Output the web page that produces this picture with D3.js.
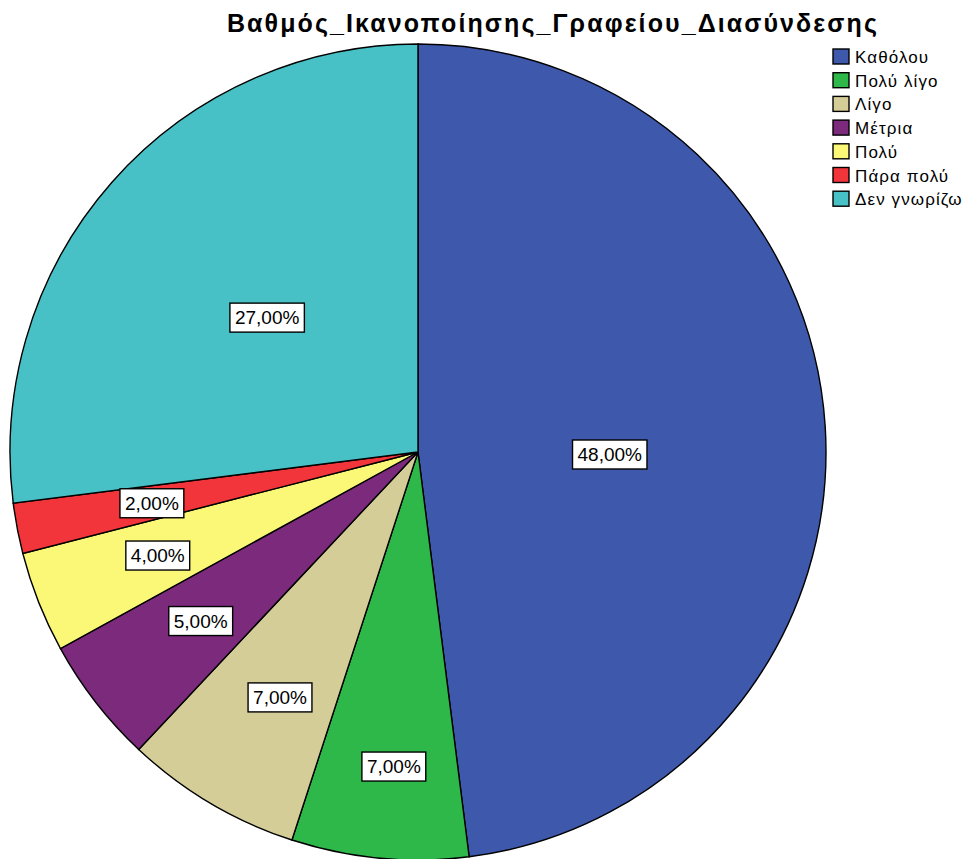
<!DOCTYPE html>
<html>
<head>
<meta charset="utf-8">
<script src="https://cdn.jsdelivr.net/npm/d3@7"></script>
<style>
  body { margin: 0; background: #fff; }
  svg { display: block; font-family: "Liberation Sans", Arial, sans-serif; }
</style>
</head>
<body>
<svg width="973" height="859"></svg>
<script>
var categories = ["Καθόλου", "Πολύ λίγο", "Λίγο", "Μέτρια", "Πολύ", "Πάρα πολύ", "Δεν γνωρίζω"];
var percents = [48, 7, 7, 5, 4, 2, 27];
var colors = ["#3e58ac", "#2eb84a", "#d4cd98", "#7b2a7c", "#fbf877", "#f2353b", "#48c1c6"];

var svg = d3.select("svg");
var cx = 418, cy = 452, r = 408;

svg.append("text")
    .attr("x", 553)
    .attr("y", 32)
    .attr("text-anchor", "middle")
    .style("font-size", "25px")
    .style("font-weight", "bold")
    .style("letter-spacing", "2.1px")
    .text("Βαθμός_Ικανοποίησης_Γραφείου_Διασύνδεσης");

var pie = d3.pie().sort(null).value(function(d) { return d; });
var arcs = pie(percents);
var arc = d3.arc().innerRadius(0).outerRadius(r);

var g = svg.append("g").attr("transform", "translate(" + cx + "," + cy + ")");

g.selectAll("path")
    .data(arcs)
    .enter().append("path")
    .attr("d", arc)
    .attr("fill", function(d, i) { return colors[i]; })
    .attr("stroke", "#000")
    .attr("stroke-width", 1.4);

// label placement: distance as share of radius, small angle nudge in degrees
var labelFrac = [0.47, 0.772, 0.689, 0.674, 0.686, 0.664, 0.496];
var labelNudge = [4.2, -1, -1.2, 0, 0, 0, 0.4];

var labels = g.selectAll("g.lab")
    .data(arcs)
    .enter().append("g")
    .attr("class", "lab")
    .attr("transform", function(d, i) {
        var a = (d.startAngle + d.endAngle) / 2 + labelNudge[i] * Math.PI / 180;
        var rr = r * labelFrac[i];
        return "translate(" + (Math.sin(a) * rr) + "," + (-Math.cos(a) * rr) + ")";
    });

var rects = labels.append("rect")
    .attr("fill", "#fff")
    .attr("stroke", "#000")
    .attr("stroke-width", 1.4);

var texts = labels.append("text")
    .attr("text-anchor", "middle")
    .attr("y", 7)
    .style("font-size", "19px")
    .text(function(d) { return d3.format(".2f")(d.data).replace(".", ",") + "%"; });

texts.each(function(d, i) {
    var w = this.getComputedTextLength();
    d3.select(rects.nodes()[i])
        .attr("x", -w / 2 - 5)
        .attr("y", -14)
        .attr("width", w + 10)
        .attr("height", 29);
});

var legend = svg.append("g").attr("transform", "translate(833,49)");
var items = legend.selectAll("g")
    .data(categories)
    .enter().append("g")
    .attr("transform", function(d, i) { return "translate(0," + (i * 23.7) + ")"; });

items.append("rect")
    .attr("width", 16)
    .attr("height", 15)
    .attr("fill", function(d, i) { return colors[i]; })
    .attr("stroke", "#000")
    .attr("stroke-width", 1.4);

items.append("text")
    .attr("x", 22)
    .attr("y", 14)
    .style("font-size", "17px")
    .style("letter-spacing", "1.1px")
    .text(function(d) { return d; });
</script>
</body>
</html>
